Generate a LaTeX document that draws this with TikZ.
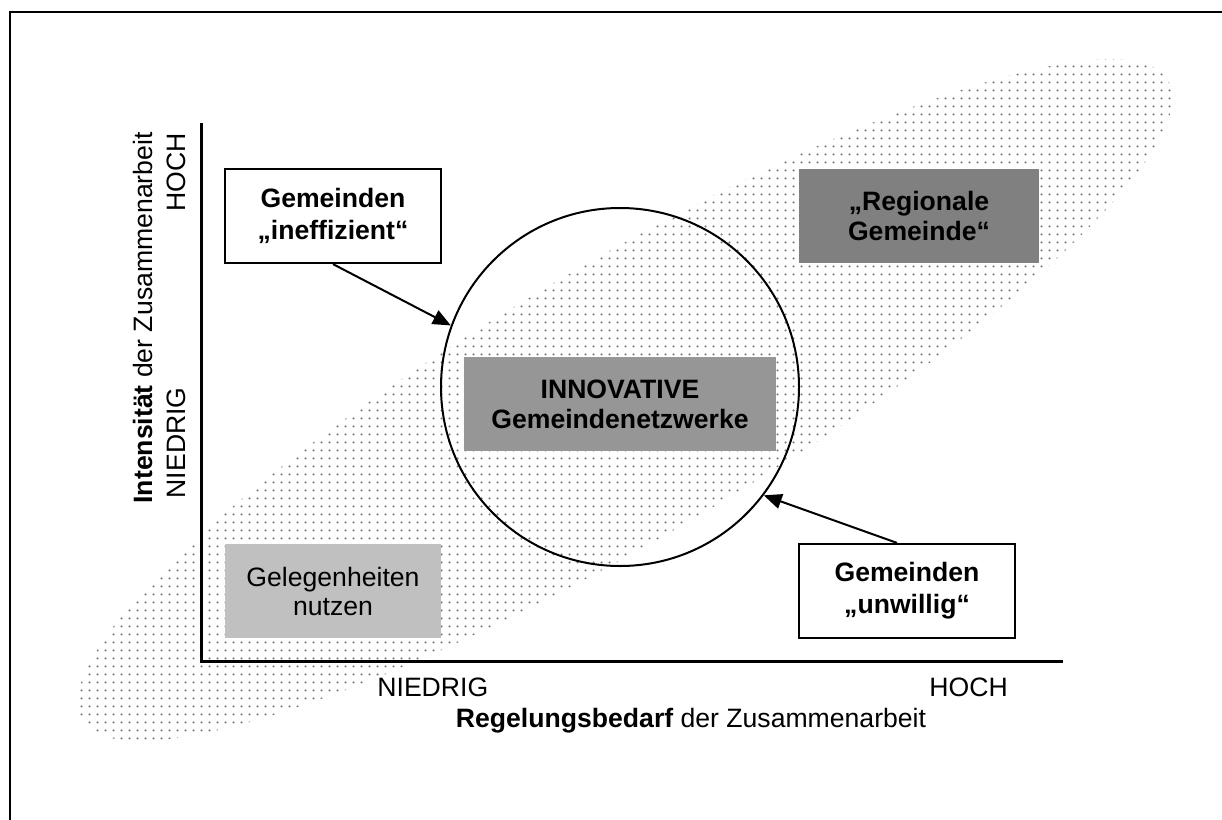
\documentclass[tikz,border=0pt]{standalone}
\usepackage{fontspec}
\setmainfont{Liberation Sans}
\usetikzlibrary{arrows.meta,patterns}
\pgfdeclarepatternformonly{griddots}{\pgfpointorigin}{\pgfpoint{3.8pt}{3.8pt}}{\pgfpoint{3.8pt}{3.8pt}}{\pgfpathcircle{\pgfpoint{1.9pt}{1.9pt}}{0.65pt}\pgfusepath{fill}}
\definecolor{darkfield}{HTML}{808080}
\definecolor{midfield}{HTML}{969696}
\definecolor{lightfield}{HTML}{C0C0C0}
\begin{document}
\begin{tikzpicture}
	[	x=0.5pt,y=-0.5pt,
	plain/.style={inner sep=0pt,font=\fontsize{13.3pt}{16pt}\selectfont},
	box/.style={rectangle,draw=black,line width=1.1pt,fill=white,minimum width=108pt,minimum height=47pt,align=center,font=\fontsize{13.3pt}{16pt}\selectfont\bfseries},
	field/.style={rectangle,draw=none,minimum height=47pt,inner sep=0pt,align=center,font=\fontsize{13.3pt}{15pt}\selectfont\bfseries},
	arrow/.style={-{Triangle[length=9pt,width=7.5pt]},line width=1pt}
	]
	\useasboundingbox (0,0) rectangle (1222,820);
	\begin{scope}
		\clip (0,0) rectangle (1222,820);
		\draw[line width=1.1pt] (10,12) rectangle (1240,840);
	\end{scope}

	\fill[pattern=griddots,pattern color=black!50,rotate around={30.5:(625,400)}] (625,400) ellipse [x radius=630,y radius=137];

	\coordinate (ytop) at (201,123);
	\coordinate (origin) at (201,661);
	\coordinate (xend) at (1063,661);
	\draw[line width=1.5pt] (ytop) -- (origin) -- (xend);

	\node[field,fill=lightfield,minimum width=108pt,font=\fontsize{13.3pt}{14.5pt}\selectfont] (chance) at (333,591) {Gelegenheiten\\nutzen};
	\node[field,fill=midfield,minimum width=156pt] (innov) at (620,404) {INNOVATIVE\\Gemeindenetzwerke};
	\node[field,fill=darkfield,minimum width=120pt] (region) at (919,216) {„Regionale\\Gemeinde“};
	\node[box] (ineff) at (333,216) {Gemeinden\\„ineffizient“};
	\node[box] (unwill) at (907,591) {Gemeinden\\„unwillig“};

	\node[circle,draw=black,line width=1pt,inner sep=0pt,minimum size=179pt] (netz) at (620,387) {};
	\draw[arrow] (ineff.south) -- (netz.160);
	\draw[arrow] ([xshift=-5pt]unwill.north) -- (netz.-37);

	\node[plain,rotate=90,anchor=base east] (ylabel) at (152,132) {\textbf{Intensität} der Zusammenarbeit};
	\node[plain,rotate=90,anchor=base east] (yhigh) at (185,133) {HOCH};
	\node[plain,rotate=90,anchor=base east] (ylow) at (185,387) {NIEDRIG};
	\node[plain,anchor=base west] (xlow) at (377,696) {NIEDRIG};
	\node[plain,anchor=base west] (xhigh) at (929,696) {HOCH};
	\node[plain,anchor=base] (xlabel) at (691,727) {\textbf{Regelungsbedarf} der Zusammenarbeit};
\end{tikzpicture}
\end{document}
